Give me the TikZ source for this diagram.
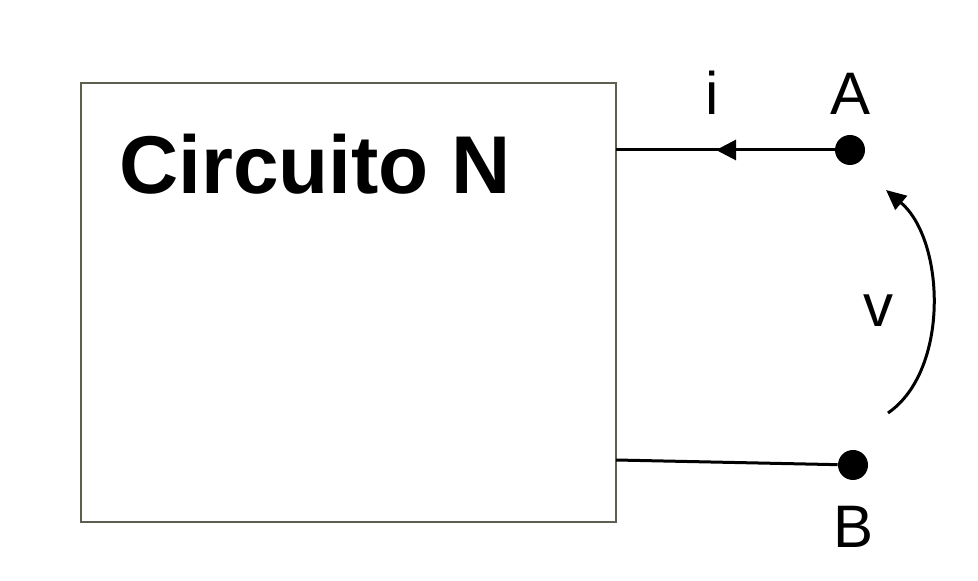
\documentclass[tikz,border=0pt]{standalone}
\usepackage{fontspec}
\setmainfont{Liberation Sans}
\usetikzlibrary{arrows.meta,positioning}
\definecolor{boxgray}{RGB}{95,95,80}

\begin{document}
\begin{tikzpicture}[x=0.5pt,y=-0.5pt,
          box/.style={draw=boxgray,line width=1pt,minimum width=267.5pt,minimum height=219.5pt,inner sep=0pt,outer sep=0pt},
          terminal/.style={circle,fill=black,minimum size=15pt,inner sep=0pt},
          lbl/.style={font=\fontsize{30}{30}\selectfont,inner sep=0pt},
          wire/.style={line width=1.5pt}]

                \useasboundingbox (0,0) rectangle (978,581);

                \node[box] (N) at (348.5,302.5) {};
                \node[font=\bfseries\fontsize{41}{41}\selectfont,inner sep=0pt,anchor=base] (title) at (315,194) {Circuito N};
                \node[terminal] (A) at (850,150) {};
                \node[terminal] (B) at (853,465) {};
                \node[lbl] (lA) [above = 10pt of A] {A};
                \node[lbl] (lB) [below = 12.5pt of B] {B};
                \node[lbl,anchor=base] (li) at (712,115) {i};
                \node[lbl,anchor=base] (lv) at (878,327) {v};

                \coordinate (Nb) at (616,460);
                \coordinate (itail) at (755,150);
                \coordinate (itip) at (716,150);
                \coordinate (vs) at (888,413);
                \coordinate (ve) at (886,190);

                \draw[wire] (N.east |- A) -- (A);
                \draw[wire] (Nb) -- (B);
                \draw[wire,-{Triangle[length=10pt,width=10pt]}] (itail) -- (itip);
                \draw[wire,-{Triangle[length=10pt,width=9pt]}] (vs) .. controls (950,370) and (945,240) .. (ve);
              \end{tikzpicture}
\end{document}
